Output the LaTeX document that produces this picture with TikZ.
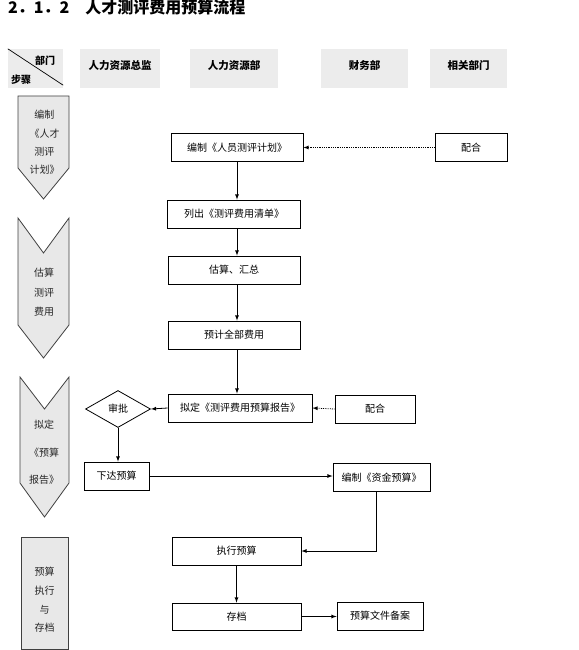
\documentclass[tikz,border=0pt]{standalone}
\usepackage{fontspec}
\setmainfont{Noto Sans CJK SC}
\usetikzlibrary{arrows,shapes.geometric,calc}

\tikzset{
  hdrbox/.style={fill=gray!15, minimum height=39pt, inner sep=0pt, text height=9pt, text depth=7pt, font=\fontsize{10.5}{12}\selectfont\bfseries},
  flowbox/.style={draw, line width=0.8pt, fill=white, minimum height=28pt, inner sep=1pt, font=\fontsize{10}{12}\selectfont},
  stagebox/.style={draw=black!75, line width=0.8pt, fill=gray!18},
  stagetext/.style={align=center, inner sep=0pt, text=black!85},
  flowarrow/.style={-latex, line width=0.8pt},
  helparrow/.style={-latex, line width=0.8pt, densely dotted},
}

\begin{document}
\begin{tikzpicture}[x=1pt,y=-1pt]

\useasboundingbox (0,0) rectangle (578,650);

\node[anchor=west, inner sep=0pt, font=\fontsize{16}{18}\selectfont\bfseries] (title) at (8,7) {2．1．2　人才测评费用预算流程};

% Kopfzeile
\node[hdrbox, minimum width=55pt] (corner) at (35.5,68.5) {};
\draw[line width=0.7pt] (corner.north west) -- ([yshift=3pt]corner.south east);
\node[font=\fontsize{10}{12}\selectfont\bfseries] (deptLabel) at (45,61) {部门};
\node[font=\fontsize{10}{12}\selectfont\bfseries] (stepLabel) at (21,80) {步骤};

\node[hdrbox, minimum width=80pt] (hdrDir) at (120,68.5) {人力资源总监};
\node[hdrbox, minimum width=88pt] (hdrHR) at (234,68.5) {人力资源部};
\node[hdrbox, minimum width=87pt] (hdrFin) at (364.5,68.5) {财务部};
\node[hdrbox, minimum width=77pt] (hdrRel) at (468.5,68.5) {相关部门};

% Schritte links
\draw[stagebox] (18,96) -- (69,96) -- (69,168) -- (43.5,199) -- (18,168) -- cycle;
\node[stagetext, font=\fontsize{10}{18.3}\selectfont] (stagePlan) at (44.5,142.5) {编制\\《人才\\测评\\计划》};

\draw[stagebox] (18,218) -- (43.5,253) -- (69,218) -- (69,325) -- (43.5,358) -- (18,325) -- cycle;
\node[stagetext, font=\fontsize{10}{19.5}\selectfont] (stageEst) at (44,292.5) {估算\\测评\\费用};

\draw[stagebox] (20,377) -- (44.5,409) -- (69,377) -- (69,483) -- (44.5,517) -- (20,483) -- cycle;
\node[stagetext, font=\fontsize{10}{27.5}\selectfont] (stageRep) at (44,452.5) {拟定\\《预算\\报告》};

\draw[stagebox] (21,537) rectangle (68,649);
\node[stagetext, font=\fontsize{10}{18.7}\selectfont] (stageExec) at (44.5,600) {预算\\执行\\与\\存档};

% Ablauf
\node[flowbox, minimum width=132pt] (planHR) at (237,147.5) {编制《人员测评计划》};
\node[flowbox, minimum width=72pt] (coopA) at (471,147.5) {配合};
\node[flowbox, minimum width=133pt] (list) at (234,214) {列出《测评费用清单》};
\node[flowbox, minimum width=132pt] (est) at (234,270) {估算、汇总};
\node[flowbox, minimum width=132pt] (total) at (234,335) {预计全部费用};
\node[flowbox, minimum width=144pt] (report) at (240,408) {拟定《测评费用预算报告》};
\node[draw, diamond, aspect=1.75, line width=0.8pt, fill=white, minimum width=65pt, minimum height=37pt, inner sep=0pt, font=\fontsize{10}{12}\selectfont] (approve) at (118,409) {审批};
\node[flowbox, minimum width=80pt] (coopB) at (375,409) {配合};
\node[flowbox, minimum width=65pt] (issue) at (116.5,476) {下达预算};
\node[flowbox, minimum width=97pt] (fund) at (381.5,477.5) {编制《资金预算》};
\node[flowbox, minimum width=129pt] (exec) at (236.5,551) {执行预算};
\node[flowbox, minimum width=129pt, minimum height=27pt] (archive) at (236.5,616.5) {存档};
\node[flowbox, minimum width=86pt] (file) at (380,616) {预算文件备案};

\draw[helparrow] (coopA.west) -- (planHR.east);
\draw[flowarrow] (planHR.south) -- (planHR.south |- list.north);
\draw[flowarrow] (planHR.south |- list.south) -- (planHR.south |- est.north);
\draw[flowarrow] (planHR.south |- est.south) -- (planHR.south |- total.north);
\draw[flowarrow] (planHR.south |- total.south) -- (planHR.south |- report.north);
\draw[flowarrow] (report.west) -- (approve.east);
\draw[helparrow] (coopB.west) -- (report.east);
\draw[flowarrow] (approve.south) -- (approve.south |- issue.north);
\draw[flowarrow] (issue.east) -- (issue.east -| fund.west);
\draw[flowarrow] ([xshift=-5pt]fund.south) |- (exec.east);
\draw[flowarrow] (exec.south) -- (archive.north);
\draw[flowarrow] (archive.east) -- (archive.east -| file.west);

\end{tikzpicture}
\end{document}
